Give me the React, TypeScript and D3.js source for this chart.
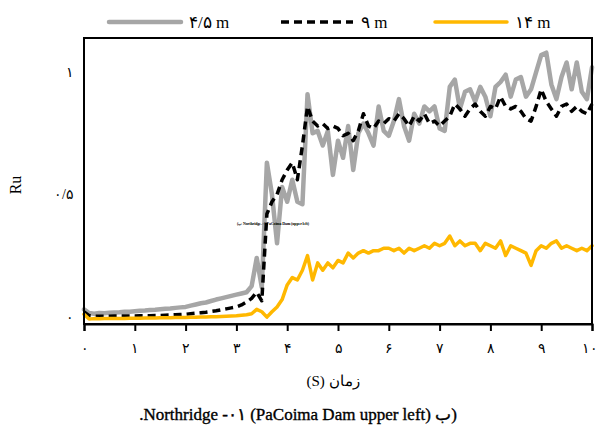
import React, { useEffect, useRef } from 'react';
import * as d3 from 'd3';

// time axis (s), 0.1 s step
const timeS = d3.range(0, 101).map(i => i / 10);

// Ru at 4.5 m (gray)
const ru45 = [
  0.03, 0.015, 0.012, 0.015, 0.014, 0.016, 0.017, 0.018, 0.02, 0.02,
  0.022, 0.024, 0.025, 0.027, 0.028, 0.03, 0.032, 0.033, 0.036, 0.038,
  0.04, 0.045, 0.05, 0.055, 0.058, 0.064, 0.07, 0.075, 0.08, 0.085,
  0.09, 0.095, 0.1, 0.125, 0.24, 0.12, 0.63, 0.5, 0.3, 0.53,
  0.47, 0.56, 0.47, 0.46, 0.91, 0.75, 0.76, 0.7, 0.76, 0.58,
  0.72, 0.65, 0.78, 0.6, 0.75, 0.79, 0.75, 0.7, 0.86, 0.76,
  0.74, 0.8, 0.89, 0.78, 0.72, 0.83, 0.79, 0.86, 0.84, 0.86,
  0.77, 0.76, 0.94, 0.97, 0.85, 0.92, 0.93, 0.88, 0.94, 0.9,
  0.82, 0.94, 0.96, 0.99, 0.9, 0.97, 0.98, 0.9, 0.93, 1.0,
  1.07, 1.08, 0.95, 0.89, 0.98, 1.04, 0.93, 1.04, 0.92, 0.89, 1.02,
];

// Ru at 9 m (black dashed)
const ru9 = [
  0.02, 0.004, 0.002, 0.002, 0.002, 0.002, 0.003, 0.003, 0.003, 0.003,
  0.003, 0.004, 0.004, 0.004, 0.005, 0.005, 0.006, 0.007, 0.008, 0.009,
  0.01, 0.012, 0.014, 0.016, 0.018, 0.021, 0.024, 0.028, 0.032, 0.036,
  0.04, 0.048, 0.06, 0.075, 0.1, 0.065, 0.42, 0.47, 0.5, 0.56,
  0.6, 0.63, 0.56, 0.7, 0.86, 0.8, 0.78, 0.79, 0.77, 0.78,
  0.77, 0.74, 0.75, 0.72, 0.76, 0.83, 0.78, 0.77, 0.8, 0.79,
  0.81, 0.8, 0.83, 0.81, 0.78, 0.82, 0.8, 0.83, 0.79, 0.8,
  0.78, 0.8, 0.82, 0.87, 0.85, 0.82, 0.85, 0.87, 0.84, 0.82,
  0.86, 0.85, 0.9, 0.86, 0.85, 0.86, 0.84, 0.81, 0.8, 0.86,
  0.93, 0.88, 0.85, 0.82, 0.86, 0.87, 0.84, 0.86, 0.84, 0.83, 0.87,
];

// Ru at 14 m (orange)
const ru14 = [
  0.01, -0.01, -0.008, -0.009, -0.008, -0.008, -0.007, -0.007, -0.007, -0.006,
  -0.006, -0.006, -0.005, -0.005, -0.005, -0.004, -0.004, -0.004, -0.003, -0.003,
  -0.003, -0.002, -0.002, -0.001, -0.001, 0.0, 0.0, 0.001, 0.002, 0.003,
  0.004, 0.006, 0.008, 0.012, 0.03, 0.02, -0.002, 0.02, 0.04, 0.07,
  0.13, 0.16, 0.15, 0.19, 0.25, 0.15, 0.22, 0.19, 0.22, 0.2,
  0.23, 0.22, 0.26, 0.24, 0.26, 0.27, 0.26, 0.27, 0.27, 0.28,
  0.28, 0.27, 0.28, 0.26, 0.28, 0.27, 0.28, 0.29, 0.28, 0.3,
  0.29, 0.3, 0.33, 0.29, 0.31, 0.29, 0.3, 0.3, 0.27, 0.3,
  0.29, 0.28, 0.31, 0.25, 0.29, 0.28, 0.27, 0.26, 0.21, 0.27,
  0.29, 0.28, 0.3, 0.31, 0.28, 0.29, 0.28, 0.27, 0.28, 0.27, 0.29,
];

const xTicks = [0, 1, 2, 3, 4, 5, 6, 7, 8, 9, 10];
const xTickLabels = ['۰', '۱', '۲', '۳', '۴', '۵', '۶', '۷', '۸', '۹', '۱۰'];
const yTicks = [0, 0.5, 1];
const yTickLabels = ['۰', '۰/۵', '۱'];
const seriesNames = ['۴/۵ m', '۹ m', '۱۴ m'];

const W = 598;
const H = 433;

const App = () => {
  const svgRef = useRef(null);

  useEffect(() => {
    const svg = d3.select(svgRef.current);
    svg.selectAll('*').remove();

    const box = { left: 84, right: 592, top: 38, bottom: 324 };
    const serif = '"Liberation Serif", "DejaVu Serif", serif';

    const x = d3.scaleLinear().domain([0, 10]).range([box.left, box.right]);
    const y = d3.scaleLinear().domain([-0.03, 1.14]).range([box.bottom, box.top]);

    const series = [
      { name: seriesNames[0], values: ru45, color: '#a6a6a6', width: 4.5, dash: null },
      { name: seriesNames[1], values: ru9, color: '#000000', width: 3.5, dash: '8,5' },
      { name: seriesNames[2], values: ru14, color: '#ffb800', width: 3.5, dash: null },
    ];

    svg.append('rect').attr('width', W).attr('height', H).attr('fill', '#fff');

    const line = d3.line()
      .x((d, i) => x(timeS[i]))
      .y(d => y(d));

    const plot = svg.append('g');
    series.forEach(s => {
      plot.append('path')
        .datum(s.values)
        .attr('fill', 'none')
        .attr('stroke', s.color)
        .attr('stroke-width', s.width)
        .attr('stroke-linejoin', 'round')
        .attr('stroke-linecap', s.dash ? 'butt' : 'round')
        .attr('stroke-dasharray', s.dash)
        .attr('d', line);
    });

    // frame
    svg.append('rect')
      .attr('x', box.left)
      .attr('y', box.top)
      .attr('width', box.right - box.left)
      .attr('height', box.bottom - box.top)
      .attr('fill', 'none')
      .attr('stroke', '#000')
      .attr('stroke-width', 2);

    // x axis
    const xAxis = svg.append('g')
      .attr('transform', `translate(0,${box.bottom})`)
      .call(d3.axisBottom(x)
        .tickValues(xTicks)
        .tickSize(7)
        .tickFormat((d, i) => xTickLabels[i]));
    xAxis.select('.domain').attr('stroke-width', 2);
    xAxis.selectAll('.tick line').attr('stroke-width', 2);
    xAxis.selectAll('text')
      .attr('y', 19)
      .style('font-family', serif)
      .style('font-size', '14px')
      .attr('fill', '#000');
    // last label sits against the right edge
    xAxis.selectAll('.tick text')
      .filter(d => d === 10)
      .attr('text-anchor', 'end')
      .attr('x', 5);

    // y tick labels (no tick marks)
    svg.append('g')
      .selectAll('text')
      .data(yTicks)
      .join('text')
      .attr('x', 74)
      .attr('y', d => y(d))
      .attr('dy', '0.35em')
      .attr('text-anchor', 'end')
      .style('font-family', serif)
      .style('font-size', '14px')
      .text((d, i) => yTickLabels[i]);

    // axis titles
    svg.append('text')
      .attr('transform', `translate(21,${(box.top + box.bottom) / 2 + 4}) rotate(-90)`)
      .attr('text-anchor', 'middle')
      .style('font-family', serif)
      .style('font-size', '16px')
      .text('Ru');

    svg.append('text')
      .attr('x', 333)
      .attr('y', 386)
      .attr('text-anchor', 'middle')
      .style('font-family', serif)
      .style('font-size', '15px')
      .text('(S) زمان');

    // small inner label
    svg.append('text')
      .attr('x', 237)
      .attr('y', 225)
      .style('font-family', serif)
      .style('font-size', '4px')
      .style('font-weight', 'bold')
      .attr('textLength', 72)
      .text('(ب Northridge-۰۱ PaCoima Dam (upper left)');

    // caption
    svg.append('text')
      .attr('x', 298)
      .attr('y', 420)
      .attr('text-anchor', 'middle')
      .style('font-family', serif)
      .style('font-size', '17px')
      .attr('fill', '#000')
      .attr('stroke', '#000')
      .attr('stroke-width', 0.35)
      .text('.Northridge -۰۱ (PaCoima Dam upper left) ب)');

    // legend
    const legendX = [109, 281, 435];
    const legend = svg.append('g');
    series.forEach((s, i) => {
      const lx = legendX[i];
      legend.append('line')
        .attr('x1', lx)
        .attr('x2', lx + 72)
        .attr('y1', 22)
        .attr('y2', 22)
        .attr('stroke', s.color)
        .attr('stroke-width', s.width)
        .attr('stroke-linecap', s.dash ? 'butt' : 'round')
        .attr('stroke-dasharray', s.dash);
      legend.append('text')
        .attr('x', lx + 80)
        .attr('y', 22)
        .attr('dy', '0.35em')
        .style('font-family', serif)
        .style('font-size', '17px')
        .text(s.name);
    });
  }, []);

  return (
    <svg
      ref={svgRef}
      width={W}
      height={H}
      style={{ position: 'absolute', left: 0, top: 0 }}
    />
  );
};

export default App;
